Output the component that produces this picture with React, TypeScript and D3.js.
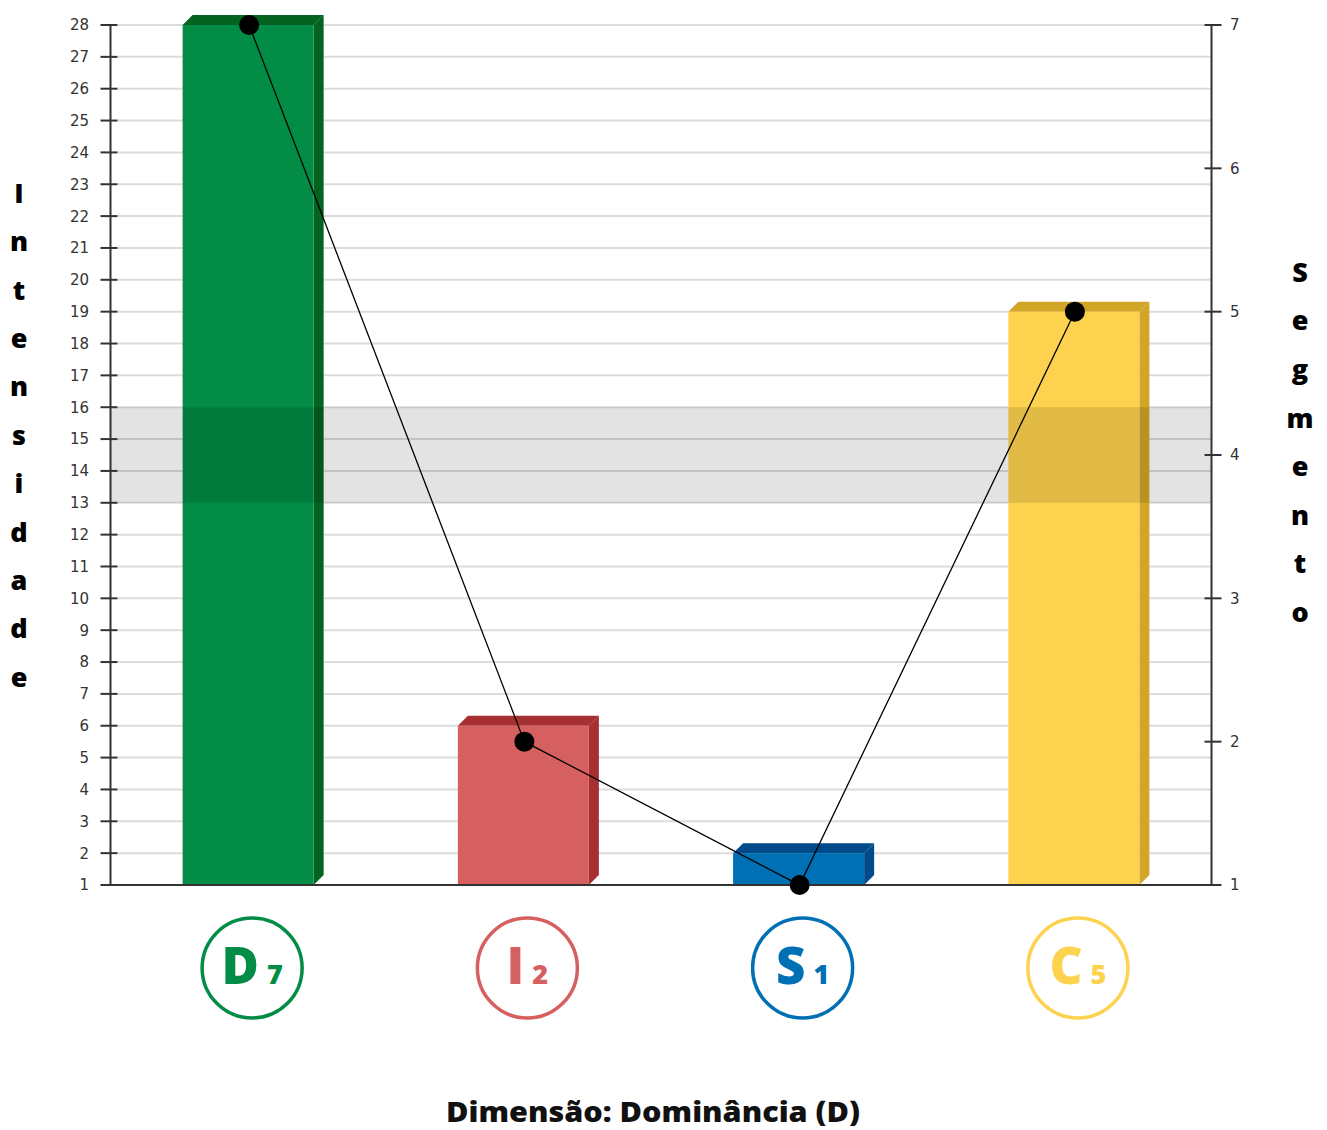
import * as d3 from "d3";

const categories = ["D", "I", "S", "C"];
const intensity = [28, 6, 2, 19];
const segment = [7, 2, 1, 5];
const frontColors = ["#038c45", "#d66060", "#0070b5", "#fdd24f"];
const sideColors = ["#03631f", "#a52f31", "#004a8a", "#d2a526"];
const leftTicks = d3.range(1, 29);
const rightTicks = [1, 2, 3, 4, 5, 6, 7];
const band = [13, 16];
const leftTitle = "Intensidade";
const rightTitle = "Segmento";
const bottomTitle = "Dimensão: Dominância (D)";

const W = 1327;
const H = 1130;
const left = 110.5;
const right = 1211.5;
const top = 25;
const bottom = 885;
const depth = 10;
const font = "'DejaVu Sans', sans-serif";
const boldFont = "'Open Sans', sans-serif";

export default function App() {
  const x = d3.scaleBand<string>().domain(categories).range([left, right]).paddingInner(0.524).paddingOuter(0.262);
  const y = d3.scaleLinear().domain([1, 28]).range([bottom, top]);
  const y2 = d3.scaleLinear().domain([1, 7]).range([bottom, top]);
  const cx = (c: string) => (x(c) ?? 0) + x.bandwidth() / 2;

  const line = d3
    .line<number>()
    .x((_, i) => cx(categories[i]) + 1)
    .y((d) => y2(d));

  return (
    <svg width={W} height={H} style={{ display: "block", position: "absolute", left: 0, top: 0 }}>
      <rect width={W} height={H} fill="#fff" />
      {/* grid */}
      {leftTicks.map((t) => (
        <line key={t} x1={left + 7} x2={right} y1={y(t)} y2={y(t)} stroke="#dcdcdc" strokeWidth={2} />
      ))}
      {/* bars */}
      {categories.map((c, i) => {
        const x0 = x(c) ?? 0;
        const x1 = x0 + x.bandwidth();
        const yt = y(intensity[i]);
        return (
          <g key={c}>
            <polygon
              points={`${x0},${yt} ${x0 + depth},${yt - depth} ${x1 + depth},${yt - depth} ${x1},${yt}`}
              fill={sideColors[i]}
            />
            <polygon
              points={`${x1},${yt} ${x1 + depth},${yt - depth} ${x1 + depth},${bottom - depth} ${x1},${bottom}`}
              fill={sideColors[i]}
            />
            <rect x={x0} y={yt} width={x.bandwidth()} height={bottom - yt} fill={frontColors[i]} />
          </g>
        );
      })}
      {/* band */}
      <rect x={left} y={y(band[1])} width={right - left} height={y(band[0]) - y(band[1])} fill="#000" fillOpacity={0.11} />
      {/* left axis */}
      <line x1={left} x2={left} y1={top} y2={bottom} stroke="#333" strokeWidth={2} />
      {leftTicks.map((t) => (
        <g key={t}>
          <line x1={left - 10} x2={left + 7} y1={y(t)} y2={y(t)} stroke="#333" strokeWidth={2} />
          <text x={89} y={y(t)} dy="0.36em" textAnchor="end" fontFamily={font} fontSize={15} fill="#333">
            {t}
          </text>
        </g>
      ))}
      {/* right axis */}
      <line x1={right} x2={right} y1={top} y2={bottom} stroke="#333" strokeWidth={2} />
      {rightTicks.map((t) => (
        <g key={t}>
          <line x1={right - 7} x2={right + 10} y1={y2(t)} y2={y2(t)} stroke="#333" strokeWidth={2} />
          <text x={1230} y={y2(t)} dy="0.36em" fontFamily={font} fontSize={15} fill="#333">
            {t}
          </text>
        </g>
      ))}
      <line x1={left} x2={right} y1={bottom} y2={bottom} stroke="#333" strokeWidth={2} />
      {/* segment line */}
      <path d={line(segment) ?? undefined} fill="none" stroke="#000" strokeWidth={1.3} />
      {segment.map((s, i) => (
        <circle key={i} cx={cx(categories[i]) + 1} cy={y2(s)} r={10} fill="#000" />
      ))}
      {/* category badges */}
      {categories.map((c, i) => {
        const bx = cx(c) + 4;
        return (
          <g key={c}>
            <circle cx={bx} cy={968} r={50} fill="none" stroke={frontColors[i]} strokeWidth={3.5} />
            <text x={bx} y={984} textAnchor="middle" fontFamily={boldFont} fontWeight={800} fill={frontColors[i]}>
              <tspan fontSize={51}>{c}</tspan>
              <tspan fontSize={27} dx={8}>{segment[i]}</tspan>
            </text>
          </g>
        );
      })}
      {/* vertical titles */}
      {leftTitle.split("").map((ch, i) => (
        <text key={i} x={19} y={193 + i * 48.4} dy="0.36em" textAnchor="middle" fontFamily={boldFont} fontWeight={800} fontSize={27} fill="#000">
          {ch}
        </text>
      ))}
      {rightTitle.split("").map((ch, i) => (
        <text key={i} x={1300} y={272 + i * 48.6} dy="0.36em" textAnchor="middle" fontFamily={boldFont} fontWeight={800} fontSize={27} fill="#000">
          {ch}
        </text>
      ))}
      <text
        x={653}
        y={1122}
        textAnchor="middle"
        fontFamily={boldFont}
        fontWeight={800}
        fontSize={28.5}
        fill="#111"
        textLength={414}
        lengthAdjust="spacingAndGlyphs"
      >
        {bottomTitle}
      </text>
    </svg>
  );
}
